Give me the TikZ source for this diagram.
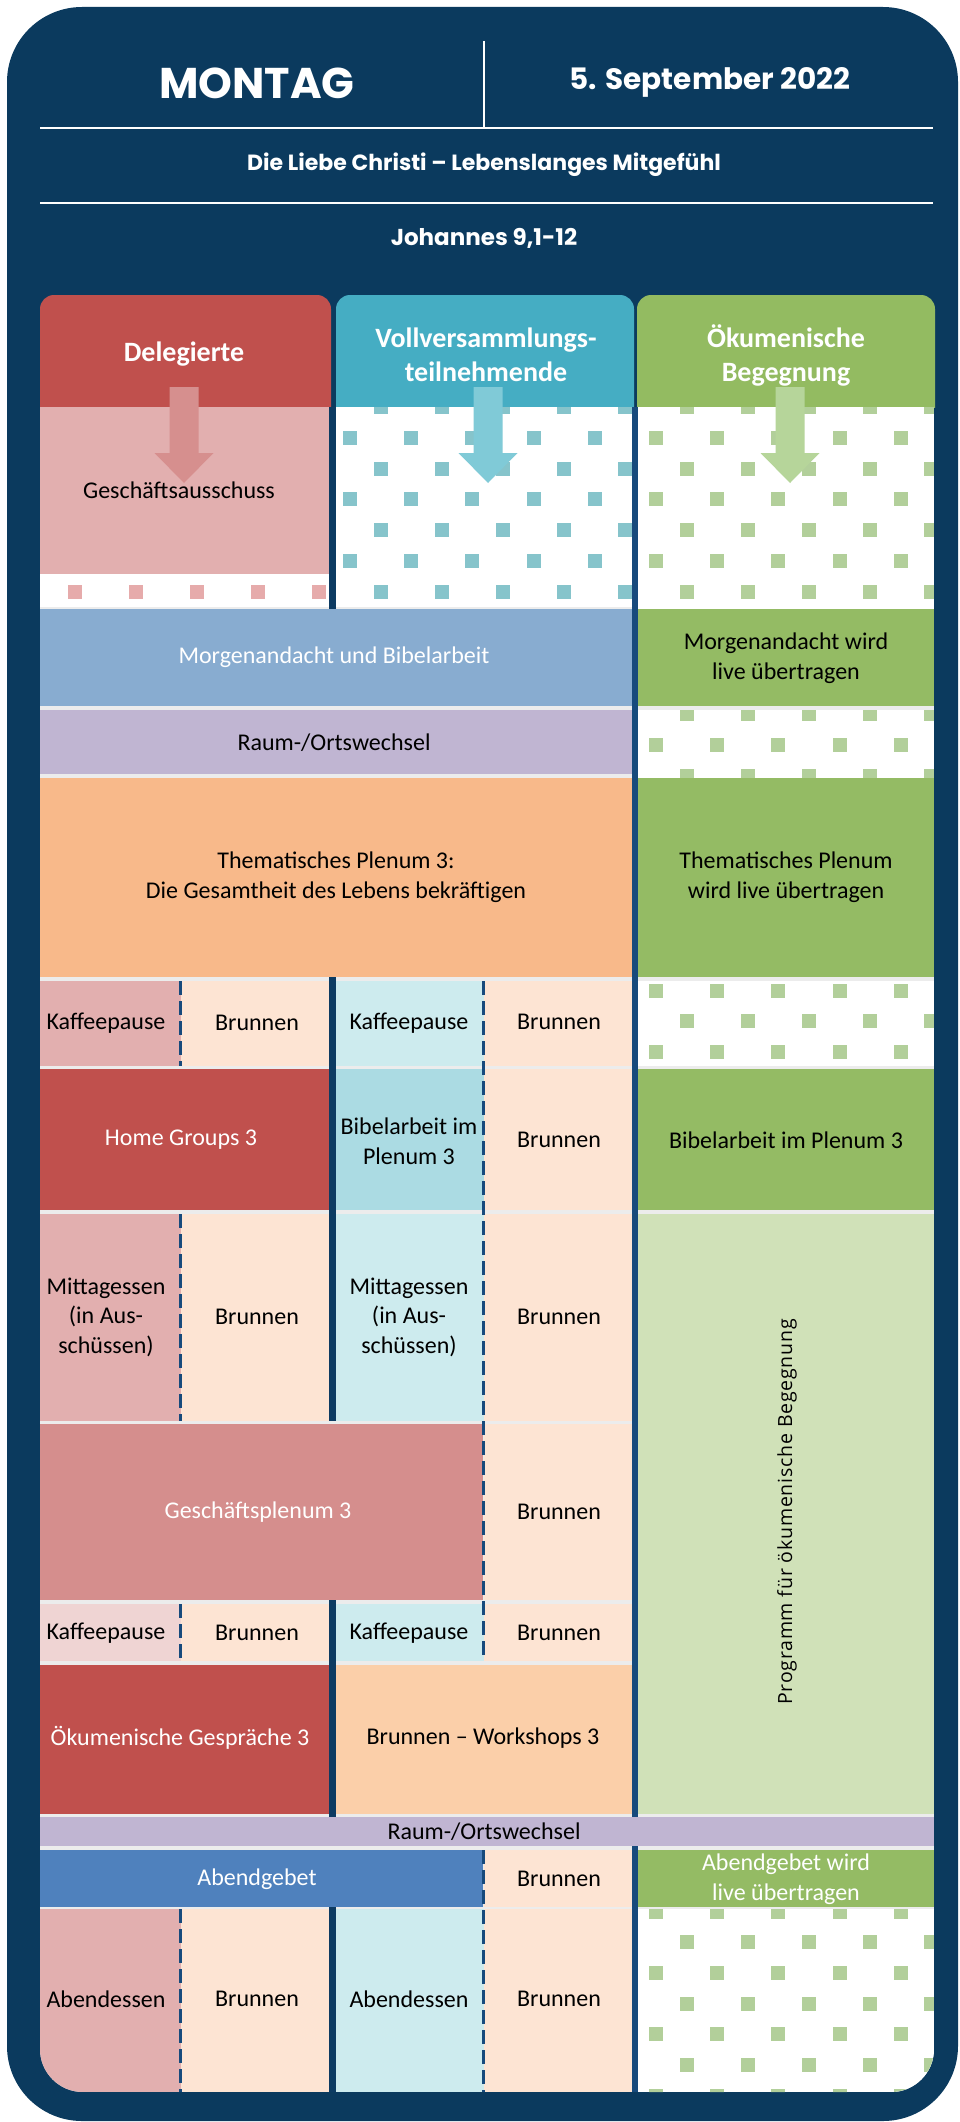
\documentclass[tikz,border=0pt]{standalone}
\usepackage{fontspec}
\setmainfont{Carlito}
\newfontfamily\headfont{Poppins}
\newfontfamily\progfont[LetterSpace=4]{Open Sans}
\definecolor{navy}{HTML}{0B3A5E}
\definecolor{sepnavy}{HTML}{0D3B62}
\definecolor{sepblue}{HTML}{174A7C}
\definecolor{gapgray}{HTML}{ECECEC}
\definecolor{hred}{HTML}{C0504D}
\definecolor{hteal}{HTML}{45ADC3}
\definecolor{hgreen}{HTML}{93BB61}
\definecolor{arrred}{HTML}{D68F8E}
\definecolor{arrteal}{HTML}{80CAD7}
\definecolor{arrgreen}{HTML}{B6D59A}
\definecolor{pink}{HTML}{E2AFAF}
\definecolor{lpink}{HTML}{EFD4D3}
\definecolor{peach}{HTML}{FDE4D3}
\definecolor{lteal}{HTML}{CDEBEE}
\definecolor{mteal}{HTML}{ABDBE3}
\definecolor{mblue}{HTML}{88ACD0}
\definecolor{dblue}{HTML}{4F81BD}
\definecolor{lgreen}{HTML}{94BB64}
\definecolor{pgreen}{HTML}{D0E1B8}
\definecolor{lav}{HTML}{C0B5D2}
\definecolor{orange}{HTML}{F8B98A}
\definecolor{lorange}{HTML}{FBCFA9}
\definecolor{rose}{HTML}{D58E8D}
\definecolor{sqpink}{HTML}{E6ABAB}
\definecolor{sqteal}{HTML}{86C4CB}
\definecolor{sqgreen}{HTML}{B2CF9A}
\tikzset{
  txt/.style={font=\fontsize{24}{29.5}\selectfont, align=center, inner sep=0pt, text=black},
  wtxt/.style={txt, text=white},
  hdr/.style={font=\fontsize{28}{34}\selectfont\bfseries, align=center, inner sep=0pt, text=white},
  toptxt/.style={text=white, inner sep=0pt},
  navsep/.style={line width=7pt, sepnavy},
  bluesep/.style={line width=6pt, sepblue},
  dashsep/.style={line width=3pt, sepblue, dash pattern=on 14pt off 6pt},
  topline/.style={line width=2pt, white},
}
\newcommand\cellfill[5]{\fill[#5] (#1,#2) rectangle (#3,#4);}
\newcommand\patt[5]{%
  \begin{scope}
    \clip (#1,#2) rectangle (#3,#4);
    \fill[white] (#1,#2) rectangle (#3,#4);
    \pgfmathtruncatemacro\jlo{floor((#2-438)/30.7)-1}%
    \pgfmathtruncatemacro\jhi{floor((#4-438)/30.7)+1}%
    \pgfmathtruncatemacro\klo{floor((#1-350)/30.6)-1}%
    \pgfmathtruncatemacro\khi{floor((#3-350)/30.6)+1}%
    \foreach \j in {\jlo,...,\jhi}{\foreach \k in {\klo,...,\khi}{%
      \pgfmathtruncatemacro\pp{mod(\k+\j+200,2)}%
      \ifnum\pp=0 \fill[#5] ({350+30.6*\k-7},{438+30.7*\j-7}) rectangle +(14,14);\fi}}
  \end{scope}}
\newcommand\downarr[2]{%
  \fill[#2] ({#1-14.5},387) -- ({#1+14.5},387) -- ({#1+14.5},453) -- ({#1+29.5},453)
    -- (#1,483) -- ({#1-29.5},453) -- ({#1-14.5},453) -- cycle;}
\begin{document}
\begin{tikzpicture}[x=1pt,y=-1pt]
\useasboundingbox (0,0) rectangle (960,2122);
% outer frame
\fill[navy, rounded corners=75] (7,7) rectangle (958,2121);
% header lines
\draw[topline] (484,41) -- (484,128);
\draw[topline] (40,128) -- (933,128);
\draw[topline] (40,203) -- (933,203);
\node[toptxt, font=\headfont\fontsize{43}{50}\selectfont\bfseries] (day) at (257,83) {MONTAG};
\node[toptxt, font=\headfont\fontsize{29.5}{34}\selectfont\bfseries] (date) at (710,82) {5. September 2022};
\node[toptxt, font=\headfont\fontsize{22}{26}\selectfont\bfseries] (theme) at (484,165) {Die Liebe Christi – Lebenslanges Mitgefühl};
\node[toptxt, font=\headfont\fontsize{23}{27}\selectfont\bfseries] (verse) at (484,238) {Johannes 9,1-12};
% column headers
\begin{scope}
  \clip (0,0) rectangle (960,407);
  \fill[hred, rounded corners=14] (40,295) rectangle (331,440);
  \fill[hteal, rounded corners=14] (336,295) rectangle (634,440);
  \fill[hgreen, rounded corners=14] (637,295) rectangle (935,440);
\end{scope}
% content
\begin{scope}
  \clip (40,407) -- (40,2049) .. controls (40,2072.7) and (59.3,2092) .. (83,2092)
    -- (891,2092) .. controls (914.7,2092) and (934,2072.7) .. (934,2049) -- (934,407) -- cycle;
  \fill[gapgray] (40,407) rectangle (934,2092);
  % R1
  \cellfill{40}{407}{329}{574}{pink}
  \patt{40}{574}{329}{607}{sqpink}
  \patt{336}{407}{632}{607}{sqteal}
  \patt{638}{407}{934}{609}{sqgreen}
  % R2
  \cellfill{40}{609}{632}{706}{mblue}
  \cellfill{638}{609}{934}{706}{lgreen}
  % R3
  \cellfill{40}{710}{632}{774}{lav}
  \patt{638}{710}{934}{778}{sqgreen}
  % R4
  \cellfill{40}{778}{632}{977}{orange}
  \cellfill{638}{778}{934}{977}{lgreen}
  % R5
  \cellfill{40}{981}{181}{1066}{pink}
  \cellfill{181}{981}{329}{1066}{peach}
  \cellfill{336}{981}{484}{1066}{lteal}
  \cellfill{484}{981}{632}{1066}{peach}
  \patt{638}{981}{934}{1066}{sqgreen}
  % R6
  \cellfill{40}{1069}{329}{1210}{hred}
  \cellfill{336}{1069}{484}{1210}{mteal}
  \cellfill{484}{1069}{632}{1210}{peach}
  \cellfill{638}{1069}{934}{1210}{lgreen}
  % R7
  \cellfill{40}{1214}{181}{1421}{pink}
  \cellfill{181}{1214}{329}{1421}{peach}
  \cellfill{336}{1214}{484}{1421}{lteal}
  \cellfill{484}{1214}{632}{1421}{peach}
  \cellfill{638}{1214}{934}{1814}{pgreen}
  % R8
  \cellfill{40}{1424}{483}{1600}{rose}
  \cellfill{484}{1424}{632}{1600}{peach}
  % R9
  \cellfill{40}{1604}{181}{1661}{lpink}
  \cellfill{181}{1604}{329}{1661}{peach}
  \cellfill{336}{1604}{484}{1661}{lteal}
  \cellfill{484}{1604}{632}{1661}{peach}
  % R10
  \cellfill{40}{1665}{329}{1814}{hred}
  \cellfill{336}{1665}{632}{1814}{lorange}
  % R11
  \cellfill{40}{1817}{934}{1846}{lav}
  % R12
  \cellfill{40}{1850}{483}{1907}{dblue}
  \cellfill{484}{1850}{632}{1907}{peach}
  \cellfill{638}{1850}{934}{1907}{lgreen}
  % R13
  \cellfill{40}{1909}{181}{2092}{pink}
  \cellfill{181}{1909}{329}{2092}{peach}
  \cellfill{336}{1909}{484}{2092}{lteal}
  \cellfill{484}{1909}{632}{2092}{peach}
  \patt{638}{1909}{934}{2092}{sqgreen}
  % separators
  \draw[navsep] (332.5,407) -- (332.5,609);
  \draw[navsep] (332.5,977) -- (332.5,1421);
  \draw[navsep] (332.5,1600) -- (332.5,1817);
  \draw[navsep] (332.5,1907) -- (332.5,2092);
  \draw[bluesep] (635,407) -- (635,1817);
  \draw[bluesep] (635,1846) -- (635,2092);
  \draw[dashsep] (483.5,981) -- (483.5,1661);
  \draw[dashsep] (483.5,1850) -- (483.5,2092);
  \draw[dashsep] (180.5,981) -- (180.5,1066);
  \draw[dashsep] (180.5,1214) -- (180.5,1421);
  \draw[dashsep] (180.5,1604) -- (180.5,1661);
  \draw[dashsep] (180.5,1909) -- (180.5,2092);
\end{scope}
% arrows
\downarr{184}{arrred}
\downarr{488}{arrteal}
\downarr{790}{arrgreen}
% header texts
\node[hdr] (hdel) at (184,354) {Delegierte};
\node[hdr] (hvoll) at (486,355) {Vollversammlungs-\\teilnehmende};
\node[hdr] (hoek) at (786,355) {Ökumenische\\Begegnung};
% cell texts
\node[txt] (gaus) at (179,490) {Geschäftsausschuss};
\node[wtxt] (morg) at (334,657) {Morgenandacht und Bibelarbeit};
\node[txt] (morglive) at (786,658) {Morgenandacht wird\\live übertragen};
\node[txt] (raum1) at (334,743) {Raum-/Ortswechsel};
\node[txt] (thema) at (336,877) {Thematisches Plenum 3:\\Die Gesamtheit des Lebens bekräftigen};
\node[txt] (themalive) at (786,877) {Thematisches Plenum\\wird live übertragen};
\node[txt] (kaf1a) at (106,1023) {Kaffeepause};
\node[txt] (bru1a) at (257,1023) {Brunnen};
\node[txt] (kaf1b) at (409,1023) {Kaffeepause};
\node[txt] (bru1b) at (559,1022) {Brunnen};
\node[wtxt] (home) at (181,1140) {Home Groups 3};
\node[txt] (bibel) at (409,1141) {Bibelarbeit im\\Plenum 3};
\node[txt] (bru2) at (559,1140) {Brunnen};
\node[txt] (bibel3) at (786,1140) {Bibelarbeit im Plenum 3};
\node[txt] (mit1) at (106,1317) {Mittagessen\\(in Aus-\\schüssen)};
\node[txt] (bru3a) at (257,1317) {Brunnen};
\node[txt] (mit2) at (409,1317) {Mittagessen\\(in Aus-\\schüssen)};
\node[txt] (bru3b) at (559,1317) {Brunnen};
\node[wtxt] (gpl) at (258,1512) {Geschäftsplenum 3};
\node[txt] (bru4) at (559,1512) {Brunnen};
\node[txt, font=\progfont\fontsize{19.5}{24}\selectfont, rotate=90] (prog) at (787,1512) {Programm für ökumenische Begegnung};
\node[txt] (kaf2a) at (106,1633) {Kaffeepause};
\node[txt] (bru5a) at (257,1633) {Brunnen};
\node[txt] (kaf2b) at (409,1633) {Kaffeepause};
\node[txt] (bru5b) at (559,1633) {Brunnen};
\node[wtxt] (oek) at (180,1738) {Ökumenische Gespräche 3};
\node[txt] (work) at (483,1738) {Brunnen – Workshops 3};
\node[txt] (raum2) at (484,1832) {Raum-/Ortswechsel};
\node[wtxt] (abg) at (257,1879) {Abendgebet};
\node[txt] (bru6) at (559,1879) {Brunnen};
\node[wtxt] (abglive) at (786,1879) {Abendgebet wird\\live übertragen};
\node[txt] (abe1) at (106,1999) {Abendessen};
\node[txt] (bru7a) at (257,1999) {Brunnen};
\node[txt] (abe2) at (409,1999) {Abendessen};
\node[txt] (bru7b) at (559,1999) {Brunnen};
\end{tikzpicture}
\end{document}
